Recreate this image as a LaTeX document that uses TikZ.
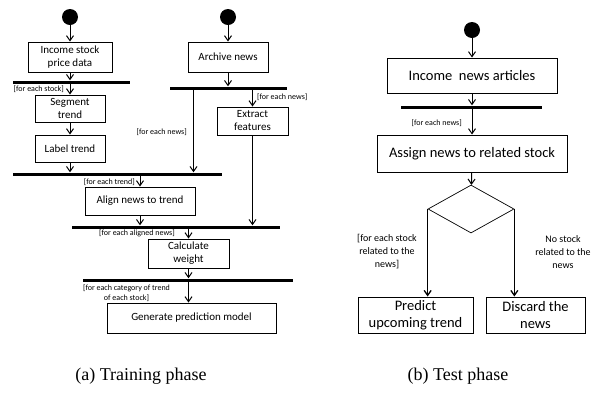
\documentclass[tikz,border=0pt]{standalone}
\usepackage{fontspec}
\setmainfont{Carlito}
\newfontfamily\capfont{Liberation Serif}
\usetikzlibrary{arrows.meta,shapes.geometric}

\begin{document}
\begin{tikzpicture}[x=1pt,y=-1pt,
	act/.style={draw,line width=1pt,align=center,inner sep=1pt,font=\fontsize{11}{13}\selectfont},
	bigact/.style={act,font=\fontsize{14.5}{17}\selectfont},
	bar/.style={fill=black,inner sep=0pt,minimum height=3pt},
	start/.style={circle,fill=black,inner sep=0pt,minimum size=16pt},
	guard/.style={inner sep=0pt,align=center,font=\fontsize{8}{10}\selectfont},
	bigguard/.style={guard,font=\fontsize{10}{13}\selectfont},
	flow/.style={-{Straight Barb[length=5pt,width=7pt]},line width=1pt}
	]
	\useasboundingbox (0,0) rectangle (592,392);
	
	%training phase: stock column
	\begin{scope}
	\node[start] (s1) at (70,17) {};
	\node[act,minimum width=84pt,minimum height=30pt] (inc) at (70,57) {Income stock\\price data};
	\node[bar,minimum width=117pt] (b1) at (71.5,82) {};
	\node[act,minimum width=70pt,minimum height=27pt] (seg) at (70,108.5) {Segment\\trend};
	\node[act,minimum width=70pt,minimum height=27pt] (lab) at (70,148.5) {Label trend};
	\node[bar,minimum width=209pt] (b2) at (117.5,174) {};
	\end{scope}
	
	%training phase: news column
	\begin{scope}
	\node[start] (s2) at (228,17) {};
	\node[act,minimum width=80pt,minimum height=30pt] (arc) at (228,57) {Archive news};
	\node[bar,minimum width=117pt] (ab) at (228.5,88) {};
	\node[act,minimum width=71pt,minimum height=28pt] (ext) at (252.5,121) {Extract\\features};
	\end{scope}
	
	\node[act,minimum width=110pt,minimum height=28pt] (al) at (140,201) {Align news to trend};
	\node[bar,minimum width=208pt] (b3) at (176,227) {};
	\node[act,minimum width=81pt,minimum height=29pt] (calc) at (188.5,253.5) {Calculate\\weight};
	\node[bar,minimum width=210pt] (b4) at (188,280) {};
	\node[act,minimum width=169pt,minimum height=30pt] (gen) at (191.5,318) {Generate prediction model};
	
	%guards
	\node[guard,anchor=east] (g1) at (64,89) {[for each stock]};
	\node[guard,anchor=west] (g2) at (257,97) {[for each news]};
	\node[guard,anchor=east] (g3) at (187,132) {[for each news]};
	\node[guard,anchor=east] (g4) at (135,182) {[for each trend]};
	\node[guard,anchor=east] (g5) at (175,233) {[for each aligned news]};
	\node[guard] (g6) at (126.5,293) {[for each category of trend\\of each stock]};
	
	\draw[flow] (s1) -- (inc);
	\draw[flow] (inc) -- (inc |- b1.north);
	\draw[flow] (b1.south -| inc) -- (seg);
	\draw[flow] (seg) -- (lab);
	\draw[flow] (lab) -- (lab |- b2.north);
	\draw[flow] (s2) -- (arc);
	\draw[flow] (arc) -- (arc |- ab.north);
	\draw[flow] ([xshift=-35pt]ab.south) -- ([xshift=-35pt]ab.south |- b2.north);
	\draw[flow] (ab.south -| ext) -- (ext);
	\draw[flow] (ext) -- (ext |- b3.north);
	\draw[flow] (b2.south -| al) -- (al);
	\draw[flow] (al) -- (al |- b3.north);
	\draw[flow] (b3.south -| calc) -- (calc);
	\draw[flow] (calc) -- (calc |- b4.north);
	\draw[flow] (b4.south -| calc) -- (calc |- gen.north);
	
	%test phase
	\begin{scope}
	\node[start] (s3) at (472,30) {};
	\node[bigact,minimum width=170pt,minimum height=35pt] (inn) at (472,75.5) {Income\ \ news articles};
	\node[bar,minimum width=141pt] (b5) at (471.5,107) {};
	\node[bigact,minimum width=190pt,minimum height=37pt] (asg) at (472,153.5) {Assign news to related stock};
	\node[diamond,draw,line width=.7pt,inner sep=0pt,minimum width=86pt,minimum height=48pt] (dec) at (471,209) {};
	\node[bigact,minimum width=115pt,minimum height=36pt] (pred) at (415.5,315) {Predict\\upcoming trend};
	\node[bigact,minimum width=99pt,minimum height=36pt] (disc) at (535.5,315) {Discard the\\news};
	
	\node[guard,anchor=east] (g7) at (462,123) {[for each news]};
	\node[bigguard] (g8) at (387,252) {[for each stock\\related to the\\news]};
	\node[bigguard] (g9) at (563,252) {No stock\\related to the\\news};
	
	\draw[flow] (s3) -- (inn);
	\draw[flow] (inn) -- (inn |- b5.north);
	\draw[flow] (b5.south -| inn) -- (asg);
	\draw[flow] (asg) -- (dec);
	\draw[flow,line width=1.3pt] (dec.west) -- (dec.west |- pred.north);
	\draw[flow,line width=1.3pt] (dec.east) -- (dec.east |- disc.north);
	\end{scope}
	
	%captions
	\node[font=\capfont\fontsize{18}{21}\selectfont] (ca) at (141,376) {(a) Training phase};
	\node[font=\capfont\fontsize{18}{21}\selectfont] (cb) at (458,376) {(b) Test phase};
\end{tikzpicture}
\end{document}
